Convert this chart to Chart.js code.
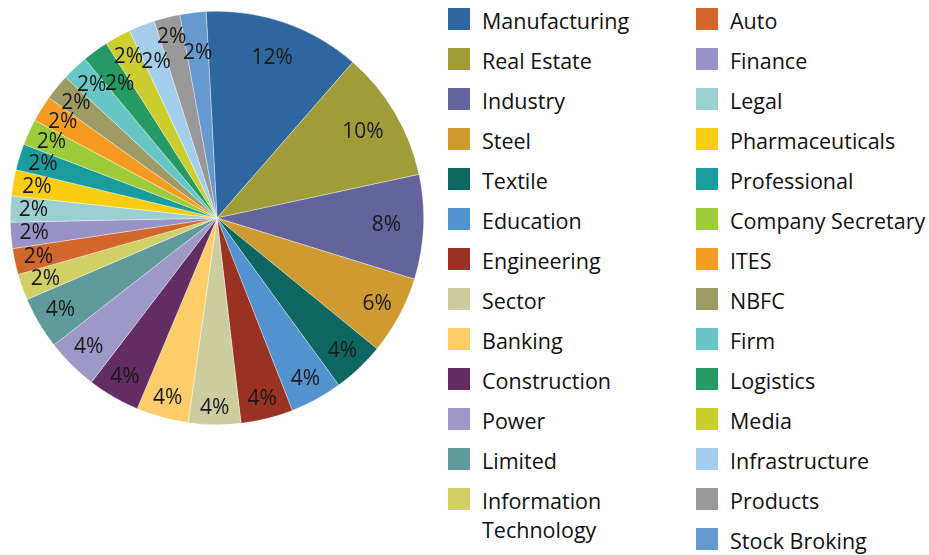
<!DOCTYPE html>
<html lang="en">
<head>
  <meta charset="UTF-8" />
  <title>Sectors</title>
  <style>
    body {
      margin: 0;
      width: 929px;
      height: 555px;
      background: #ffffff;
      font-family: 'Open Sans', 'Noto Sans', sans-serif;
      color: #111;
      overflow: hidden;
      position: relative;
    }

    #pieBox {
      position: absolute;
      left: 10px;
      top: 11px;
      width: 414px;
      height: 414px;
    }

    .item {
      position: absolute;
      display: flex;
      align-items: flex-start;
    }

    .swatch {
      width: 22px;
      height: 22px;
      flex: none;
    }

    .text {
      margin-left: 12px;
      font-size: 21.5px;
      line-height: 29px;
      margin-top: -2px;
      width: 200px;
    }
  </style>
</head>
<body>

  <div id="pieBox"><canvas id="sectorChart"></canvas></div>
  <div id="legend"></div>

  <script src="https://cdn.jsdelivr.net/npm/chart.js"></script>

  <script>
    const sectors = [
      "Manufacturing", "Real Estate", "Industry", "Steel", "Textile",
      "Education", "Engineering", "Sector", "Banking", "Construction",
      "Power", "Limited", "Information Technology",
      "Auto", "Finance", "Legal", "Pharmaceuticals", "Professional",
      "Company Secretary", "ITES", "NBFC", "Firm", "Logistics", "Media",
      "Infrastructure", "Products", "Stock Broking"
    ];

    // share of each sector, in percent
    const shares = [
      12, 10, 8, 6, 4,
      4, 4, 4, 4, 4,
      4, 4, 2,
      2, 2, 2, 2, 2,
      2, 2, 2, 2, 2, 2,
      2, 2, 2
    ];

    const colors = [
      "#2e67a0", "#a09d38", "#62649b", "#cf9a30", "#0e6660",
      "#5192cf", "#9a3223", "#cccea0", "#fdcd69", "#612d62",
      "#9d98c8", "#609b9b", "#d0d066",
      "#d3662b", "#9892c6", "#9cd0d0", "#facd11", "#1b9c9c",
      "#9ccc3a", "#f79c22", "#9e9b67", "#68c6c6", "#269a64", "#cccd2f",
      "#a2ceec", "#999999", "#6699ce"
    ];

    // first legend column holds this many entries
    const firstColumn = 13;

    // percent labels inside the slices, kept near the rim and
    // pulled inwards when they would collide with a neighbour
    const sliceLabels = {
      id: 'sliceLabels',
      afterDatasetsDraw(chart) {
        const ctx = chart.ctx;
        const meta = chart.getDatasetMeta(0);
        const placed = [];
        ctx.save();
        ctx.font = "21px 'Open Sans', 'Noto Sans', sans-serif";
        ctx.fillStyle = "#1a1a1a";
        ctx.textAlign = "center";
        ctx.textBaseline = "middle";
        meta.data.forEach((arc, i) => {
          const p = arc.getProps(['x', 'y', 'startAngle', 'endAngle', 'outerRadius'], true);
          const text = shares[i] + "%";
          const w = ctx.measureText(text).width - 2;
          const h = 16;
          const mid = (p.startAngle + p.endAngle) / 2;
          const c = Math.cos(mid), s = Math.sin(mid);
          const extent = Math.abs(c) * w / 2 + Math.abs(s) * h / 2;
          let r = shares[i] >= 8 ? p.outerRadius * 0.82 : p.outerRadius - 9 - extent;
          const hits = (x, y) => placed.some(b => Math.abs(b.x - x) < (b.w + w) / 2 && Math.abs(b.y - y) < h);
          while (r > p.outerRadius * 0.45 && hits(p.x + c * r, p.y + s * r)) {
            r -= 2;
          }
          const lx = p.x + c * r, ly = p.y + s * r;
          placed.push({ x: lx, y: ly, w: w });
          ctx.fillText(text, lx, ly);
        });
        ctx.restore();
      }
    };

    new Chart(document.getElementById("sectorChart"), {
      type: 'pie',
      data: {
        labels: sectors,
        datasets: [{
          data: shares,
          backgroundColor: colors,
          borderColor: "rgba(255,255,255,0.6)",
          borderWidth: 0.6
        }]
      },
      options: {
        responsive: true,
        maintainAspectRatio: false,
        animation: false,
        rotation: -3,
        layout: { padding: 0 },
        plugins: {
          legend: { display: false },
          tooltip: { enabled: false }
        }
      },
      plugins: [sliceLabels]
    });

    // two-column legend beside the pie
    const legend = document.getElementById("legend");
    sectors.forEach((name, i) => {
      const col = i < firstColumn ? 0 : 1;
      const row = col === 0 ? i : i - firstColumn;
      const item = document.createElement("div");
      item.className = "item";
      item.style.left = (col === 0 ? 448 : 696) + "px";
      item.style.top = (8 + row * 40) + "px";
      item.innerHTML = '<div class="swatch" style="background:' + colors[i] + '"></div>' +
        '<div class="text">' + name + '</div>';
      legend.appendChild(item);
    });
  </script>

</body>
</html>
